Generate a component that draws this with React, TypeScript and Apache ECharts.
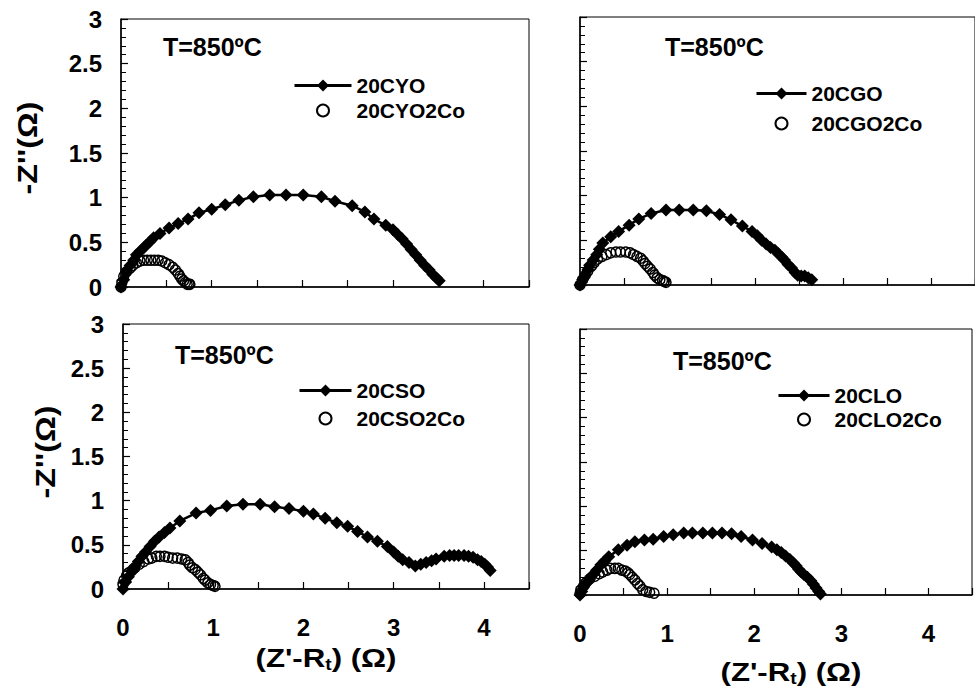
import React, { useEffect, useRef } from "react";
import * as echarts from "echarts";

type P = [number, number];

const FONT = '"Liberation Sans", Arial, Helvetica, sans-serif';

const xTicks = [0, 1, 2, 3, 4];
const tempLabel = "T=850ºC";
const yTitle = "-Z''(Ω)";
const xTitle = "(Z'-R{sub|t}) (Ω)";

const names = [
  ["20CYO", "20CYO2Co"],
  ["20CGO", "20CGO2Co"],
  ["20CSO", "20CSO2Co"],
  ["20CLO", "20CLO2Co"],
];

const cyo: P[] = [
  [0, 0], [0.03, 0.08], [0.06, 0.17], [0.1, 0.24], [0.14, 0.3], [0.17, 0.36], [0.21, 0.4], [0.25, 0.44],
  [0.28, 0.47], [0.32, 0.51], [0.36, 0.55], [0.43, 0.6], [0.53, 0.66], [0.63, 0.71], [0.74, 0.76],
  [0.86, 0.83], [1.0, 0.87], [1.15, 0.92], [1.3, 0.97], [1.46, 1.01], [1.64, 1.03], [1.82, 1.03],
  [2.01, 1.03], [2.21, 1.01], [2.36, 0.96], [2.55, 0.91], [2.69, 0.84], [2.79, 0.76], [2.92, 0.69],
  [3.0, 0.64], [3.05, 0.59], [3.1, 0.54], [3.15, 0.48], [3.2, 0.42], [3.25, 0.36], [3.3, 0.3],
  [3.35, 0.24], [3.4, 0.19], [3.44, 0.14], [3.48, 0.1], [3.51, 0.07],
];
const cyoCo: P[] = [
  [0, 0.0], [0.01, 0.05], [0.03, 0.12], [0.06, 0.17], [0.1, 0.21], [0.13, 0.24], [0.17, 0.27],
  [0.21, 0.29], [0.25, 0.3], [0.29, 0.3], [0.33, 0.3], [0.37, 0.3], [0.41, 0.3], [0.45, 0.29],
  [0.49, 0.27], [0.53, 0.25], [0.57, 0.22], [0.6, 0.19], [0.63, 0.15], [0.65, 0.12], [0.67, 0.09],
  [0.69, 0.07], [0.71, 0.05], [0.73, 0.03], [0.75, 0.03], [0.76, 0.03],
];
const cgo: P[] = [
  [0, 0], [0.03, 0.06], [0.06, 0.11], [0.09, 0.17], [0.11, 0.22], [0.15, 0.28], [0.19, 0.34],
  [0.22, 0.4], [0.26, 0.47], [0.35, 0.54], [0.44, 0.6], [0.56, 0.67], [0.67, 0.74], [0.81, 0.8],
  [0.98, 0.84], [1.13, 0.84], [1.29, 0.84], [1.44, 0.83], [1.59, 0.79], [1.72, 0.73], [1.85, 0.66],
  [1.96, 0.6], [2.02, 0.55], [2.07, 0.5], [2.12, 0.46], [2.17, 0.42], [2.22, 0.39], [2.26, 0.35],
  [2.3, 0.31], [2.33, 0.28], [2.37, 0.23], [2.41, 0.19], [2.45, 0.14], [2.48, 0.11], [2.52, 0.1],
  [2.56, 0.1], [2.6, 0.08], [2.64, 0.06],
];
const cgoCo: P[] = [
  [0, 0], [0.03, 0.06], [0.06, 0.11], [0.09, 0.16], [0.13, 0.21], [0.16, 0.25], [0.2, 0.29],
  [0.25, 0.32], [0.3, 0.34], [0.35, 0.36], [0.41, 0.37], [0.46, 0.37], [0.52, 0.37], [0.57, 0.36],
  [0.61, 0.34], [0.65, 0.32], [0.69, 0.3], [0.72, 0.27], [0.74, 0.24], [0.77, 0.21], [0.8, 0.18],
  [0.83, 0.14], [0.85, 0.11], [0.88, 0.08], [0.91, 0.06], [0.94, 0.05], [0.96, 0.04], [0.98, 0.03],
];
const cso: P[] = [
  [0, 0], [0.03, 0.08], [0.06, 0.14], [0.1, 0.2], [0.13, 0.25], [0.17, 0.31], [0.21, 0.37],
  [0.25, 0.42], [0.3, 0.48], [0.35, 0.54], [0.4, 0.59], [0.46, 0.64], [0.52, 0.69], [0.63, 0.77],
  [0.81, 0.86], [0.97, 0.89], [1.15, 0.94], [1.33, 0.96], [1.52, 0.96], [1.68, 0.93], [1.84, 0.91],
  [2.0, 0.88], [2.11, 0.85], [2.24, 0.8], [2.37, 0.75], [2.49, 0.71], [2.6, 0.65], [2.71, 0.59],
  [2.82, 0.54], [2.93, 0.48], [3.0, 0.42], [3.05, 0.37], [3.1, 0.33], [3.17, 0.3], [3.24, 0.26],
  [3.3, 0.28], [3.36, 0.3], [3.42, 0.32], [3.47, 0.34], [3.56, 0.37], [3.62, 0.38], [3.67, 0.38],
  [3.72, 0.38], [3.78, 0.38], [3.83, 0.37], [3.88, 0.36], [3.93, 0.33], [3.97, 0.31], [4.01, 0.28],
  [4.04, 0.25], [4.07, 0.21],
];
const csoCo: P[] = [
  [0, 0.05], [0.01, 0.1], [0.04, 0.15], [0.06, 0.18], [0.1, 0.21], [0.13, 0.24], [0.18, 0.28],
  [0.23, 0.31], [0.28, 0.34], [0.32, 0.35], [0.37, 0.37], [0.41, 0.37], [0.46, 0.37], [0.5, 0.36],
  [0.55, 0.35], [0.6, 0.35], [0.65, 0.34], [0.69, 0.33], [0.72, 0.3], [0.74, 0.27], [0.77, 0.24],
  [0.8, 0.22], [0.83, 0.19], [0.86, 0.16], [0.89, 0.12], [0.91, 0.1], [0.94, 0.07], [0.97, 0.05],
  [1.0, 0.04], [1.02, 0.03],
];
const clo: P[] = [
  [0, 0], [0.02, 0.04], [0.04, 0.09], [0.07, 0.13], [0.11, 0.18], [0.15, 0.23], [0.19, 0.28],
  [0.24, 0.34], [0.28, 0.38], [0.33, 0.43], [0.44, 0.51], [0.54, 0.56], [0.63, 0.6], [0.74, 0.62],
  [0.84, 0.63], [0.96, 0.66], [1.07, 0.68], [1.19, 0.7], [1.29, 0.7], [1.41, 0.7], [1.52, 0.7],
  [1.63, 0.7], [1.74, 0.69], [1.85, 0.66], [1.98, 0.62], [2.09, 0.58], [2.2, 0.54], [2.26, 0.51],
  [2.31, 0.48], [2.36, 0.44], [2.41, 0.4], [2.45, 0.36], [2.48, 0.33], [2.51, 0.29], [2.54, 0.26],
  [2.57, 0.23], [2.61, 0.2], [2.65, 0.16], [2.68, 0.12], [2.71, 0.08], [2.74, 0.04], [2.76, 0.01],
];
const cloCo: P[] = [
  [0, 0.02], [0.01, 0.06], [0.04, 0.1], [0.07, 0.14], [0.11, 0.18], [0.17, 0.21], [0.22, 0.24],
  [0.26, 0.26], [0.31, 0.28], [0.35, 0.3], [0.4, 0.3], [0.44, 0.3], [0.48, 0.28], [0.52, 0.27],
  [0.55, 0.25], [0.57, 0.23], [0.6, 0.2], [0.63, 0.17], [0.66, 0.13], [0.69, 0.1], [0.72, 0.06],
  [0.76, 0.04], [0.8, 0.03], [0.85, 0.02],
];

const mainData = [cyo, cgo, cso, clo];
const coData = [cyoCo, cgoCo, csoCo, cloCo];

export default function App() {
  const ref = useRef<HTMLDivElement>(null);

  useEffect(() => {
    if (!ref.current) return;
    const chart = echarts.init(ref.current, null, { renderer: "svg" });

    const grids = [
      { left: 121, top: 19, width: 408, height: 268 },
      { left: 580, top: 17, width: 405, height: 268 },
      { left: 123, top: 324, width: 406, height: 265 },
      { left: 580, top: 329, width: 405, height: 266 },
    ];
    const legendPos = [
      { left: 293, top: 75, gap: 4, w: 57 },
      { left: 755, top: 83, gap: 9, w: 50 },
      { left: 298, top: 380, gap: 7, w: 52 },
      { left: 777, top: 385, gap: 3, w: 51 },
    ];
    const tempPos = [
      [163, 47],
      [665, 47],
      [175, 355],
      [673, 361],
    ];

    const labelStyle = { fontFamily: FONT, fontWeight: "bold" as const, fontSize: 24, color: "#000" };

    const xAxes = grids.map((_, i) => ({
      gridIndex: i,
      type: "value",
      min: 0,
      max: 4.5,
      interval: 0.5,
      axisLine: { show: true, onZero: false, lineStyle: { color: "#000", width: 1.5 } },
      axisTick: { show: true, inside: true, length: 7, lineStyle: { color: "#000", width: 1.2 } },
      axisLabel: {
        show: i >= 2,
        margin: 26,
        ...labelStyle,
        formatter: (v: number) => (xTicks.includes(v) ? String(v) : ""),
      },
      splitLine: { show: false },
    }));
    const yAxes = grids.map((_, i) => ({
      gridIndex: i,
      type: "value",
      min: 0,
      max: 3,
      interval: 0.5,
      axisLine: { show: true, onZero: false, lineStyle: { color: "#000", width: 1.5 } },
      axisTick: { show: true, inside: true, length: 7, lineStyle: { color: "#000", width: 1.2 } },
      minorTick: { show: true, splitNumber: 5, length: 5, lineStyle: { color: "#000", width: 1 } },
      axisLabel: { show: i % 2 === 0, margin: 19, ...labelStyle },
      splitLine: { show: false },
      minorSplitLine: { show: false },
    }));

    const series: any[] = [];
    for (let i = 0; i < 4; i++) {
      series.push({
        name: names[i][0],
        type: "line",
        xAxisIndex: i,
        yAxisIndex: i,
        data: mainData[i],
        symbol: "diamond",
        symbolSize: 13,
        showSymbol: true,
        clip: false,
        lineStyle: { color: "#000", width: 2.5 },
        itemStyle: { color: "#000" },
        z: 2,
      });
      series.push({
        name: names[i][1],
        type: "line",
        xAxisIndex: i,
        yAxisIndex: i,
        data: coData[i],
        symbol: "circle",
        symbolSize: 10,
        showSymbol: true,
        clip: false,
        lineStyle: { width: 0, opacity: 0, color: "#000" },
        itemStyle: { color: "rgba(255,255,255,0)", borderColor: "#000", borderWidth: 1.5 },
        z: 3,
      });
    }

    const legends = legendPos.map((p, i) => ({
      data: names[i],
      orient: "vertical",
      left: p.left,
      top: p.top,
      itemWidth: p.w,
      itemHeight: 15,
      itemGap: p.gap,
      selectedMode: false,
      padding: 0,
      lineStyle: { width: 3 },
      textStyle: { fontFamily: FONT, fontWeight: "bold", fontSize: 21, color: "#000" },
    }));

    const graphic: any[] = [];
    tempPos.forEach(([x, y]) => {
      graphic.push({
        type: "text",
        x,
        y,
        style: {
          text: tempLabel,
          fontFamily: FONT,
          fontWeight: "bold",
          fontSize: 25,
          fill: "#000",
          align: "left",
          verticalAlign: "middle",
        },
      });
    });
    [
      [27, 148],
      [45, 452],
    ].forEach(([x, y]) => {
      graphic.push({
        type: "text",
        x,
        y,
        rotation: Math.PI / 2,
        scaleX: 1.15,
        style: {
          text: yTitle,
          fontFamily: FONT,
          fontWeight: "bold",
          fontSize: 28,
          fill: "#000",
          align: "center",
          verticalAlign: "middle",
        },
      });
    });
    [
      [326, 658],
      [791, 672],
    ].forEach(([x, y]) => {
      graphic.push({
        type: "text",
        x,
        y,
        scaleX: 1.2,
        style: {
          text: xTitle,
          fontFamily: FONT,
          fontWeight: "bold",
          fontSize: 26,
          fill: "#000",
          align: "center",
          verticalAlign: "middle",
          rich: {
            sub: {
              fontFamily: FONT,
              fontWeight: "bold",
              fontSize: 16,
              fill: "#000",
              padding: [14, 0, 0, 0],
            },
          },
        },
      });
    });

    chart.setOption({
      animation: false,
      backgroundColor: "#fff",
      grid: grids.map((g) => ({ ...g, show: true, borderColor: "#000", borderWidth: 1, backgroundColor: "transparent" })),
      xAxis: xAxes,
      yAxis: yAxes,
      legend: legends,
      series,
      graphic,
    });

    return () => chart.dispose();
  }, []);

  return (
    <div
      ref={ref}
      style={{ position: "absolute", left: 0, top: 0, width: 975, height: 692, background: "#fff" }}
    />
  );
}
